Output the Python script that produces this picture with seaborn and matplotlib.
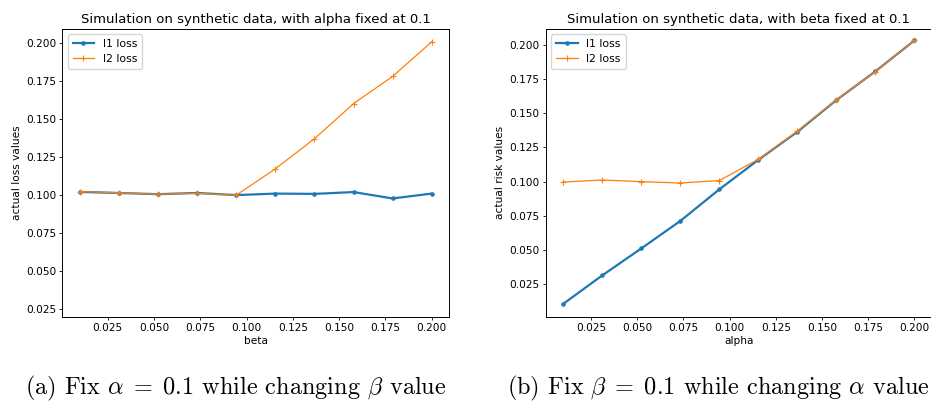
import matplotlib
matplotlib.use("Agg")
import matplotlib.pyplot as plt
import seaborn as sns
import numpy as np
import pandas as pd

plt.rcParams['mathtext.fontset'] = 'cm'

# x values (10 points from 0.01 to 0.2)
grid = [0.01, 0.0311, 0.0522, 0.0733, 0.0944, 0.1156, 0.1367, 0.1578, 0.1789, 0.2]

# (a) alpha fixed at 0.1, beta varies
beta_l1 = [0.1022, 0.1015, 0.1007, 0.1015, 0.1001, 0.1011, 0.1009, 0.1021, 0.0979, 0.1011]
beta_l2 = [0.1024, 0.1016, 0.1007, 0.1013, 0.1000, 0.1174, 0.1372, 0.1603, 0.1782, 0.2009]

# (b) beta fixed at 0.1, alpha varies
alpha_l1 = [0.0106, 0.0314, 0.0511, 0.0712, 0.0943, 0.1160, 0.1365, 0.1597, 0.1807, 0.2033]
alpha_l2 = [0.0997, 0.1012, 0.1000, 0.0990, 0.1008, 0.1164, 0.1370, 0.1600, 0.1805, 0.2033]

titles = ['Simulation on synthetic data, with alpha fixed at 0.1',
          'Simulation on synthetic data, with beta fixed at 0.1']
xlabels = ['beta', 'alpha']
ylabels = ['actual loss values', 'actual risk values']
captions = [r'(a) Fix $\alpha\;=\;0.1$ while changing $\beta$ value',
            r'(b) Fix $\beta\;=\;0.1$ while changing $\alpha$ value']

fig = plt.figure(figsize=(9.31, 4.05), dpi=100)
ax1 = fig.add_axes([0.0669, 0.218, 0.4157, 0.7105])
ax2 = fig.add_axes([0.5861, 0.218, 0.4150, 0.7105])

blue = '#1f77b4'
orange = '#ff7f0e'

for ax, l1, l2, t, xl, yl in zip([ax1, ax2], [beta_l1, alpha_l1], [beta_l2, alpha_l2],
                                 titles, xlabels, ylabels):
    sns.lineplot(x=grid, y=l1, ax=ax, color=blue, marker='.', markersize=5,
                 markeredgecolor=blue, linewidth=1.6, label='l1 loss')
    sns.lineplot(x=grid, y=l2, ax=ax, color=orange, marker='+', markersize=5,
                 markeredgecolor=orange, markeredgewidth=0.8, linewidth=0.9, label='l2 loss')
    ax.set_title(t, fontsize=9.5, pad=4)
    ax.set_xlabel(xl, fontsize=7.6, labelpad=2)
    ax.set_ylabel(yl, fontsize=7.6, labelpad=3)
    ax.tick_params(labelsize=7.6, length=2.5, width=0.6, pad=2)
    ax.set_xticks([0.025, 0.05, 0.075, 0.1, 0.125, 0.15, 0.175, 0.2])
    ax.set_yticks([0.025, 0.05, 0.075, 0.1, 0.125, 0.15, 0.175, 0.2])
    ax.xaxis.set_major_formatter(matplotlib.ticker.FormatStrFormatter('%.3f'))
    ax.yaxis.set_major_formatter(matplotlib.ticker.FormatStrFormatter('%.3f'))
    ax.set_xlim(0.0005, 0.2095)
    for s in ax.spines.values():
        s.set_linewidth(0.7)
    ax.legend(loc='upper left', fontsize=7.8, handlelength=2.0, borderpad=0.45,
              labelspacing=0.45)

ax1.set_ylim(0.0201, 0.2094)
ax2.set_ylim(0.0012, 0.2117)

fig.text(0.2535, 0.04, captions[0], fontsize=17.5, family='cmr10', ha='center', va='center')
fig.text(0.772, 0.04, captions[1], fontsize=17.5, family='cmr10', ha='center', va='center')

fig.savefig('out.png', dpi=100)
